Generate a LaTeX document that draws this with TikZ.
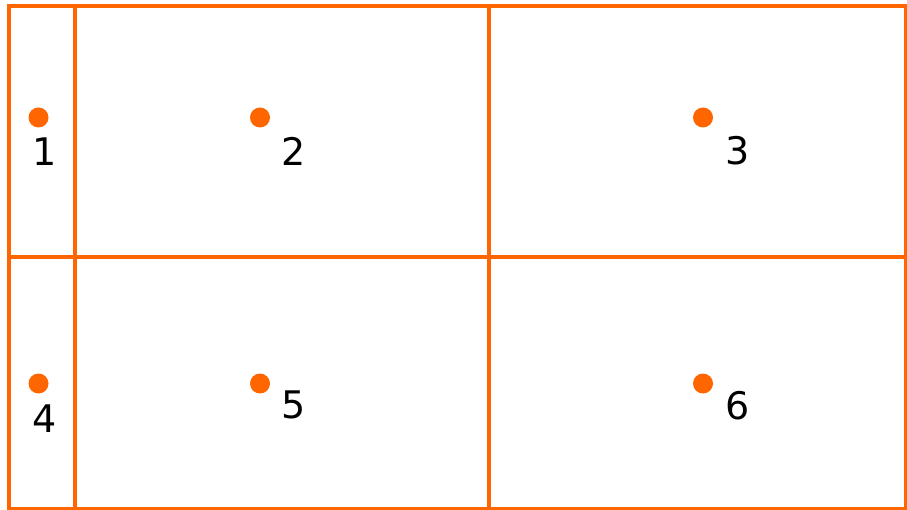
\documentclass[tikz,border=0pt]{standalone}
\usepackage{fontspec}
\setmainfont{DejaVu Sans}
\definecolor{org}{HTML}{FF6600}
\begin{document}
\begin{tikzpicture}[x=1pt,y=-1pt,
  gridline/.style={draw=org,line width=4pt},
  lab/.style={font=\fontsize{38}{40}\selectfont,inner sep=0pt}]
\useasboundingbox (0,0) rectangle (907,510);
\draw[gridline] (9,6.5) rectangle (906,508.5);
\draw[gridline] (75,6.5) -- (75,508.5);
\draw[gridline] (488.5,6.5) -- (488.5,508.5);
\draw[gridline] (9,257.5) -- (906,257.5);
\coordinate (d1) at (38.5,117.5);
\coordinate (d2) at (260,117.5);
\coordinate (d3) at (703,117.5);
\coordinate (d4) at (38.5,383.5);
\coordinate (d5) at (260,383.5);
\coordinate (d6) at (703,383.5);
\foreach \d in {d1,d2,d3,d4,d5,d6} \fill[org] (\d) circle [radius=10pt];
\node[lab] (l1) at (45,151.5) {1};
\node[lab] (l2) at (294,151.5) {2};
\node[lab] (l3) at (737.5,151) {3};
\node[lab] (l4) at (45,419) {4};
\node[lab] (l5) at (294,405) {5};
\node[lab] (l6) at (738,406) {6};
\end{tikzpicture}
\end{document}
